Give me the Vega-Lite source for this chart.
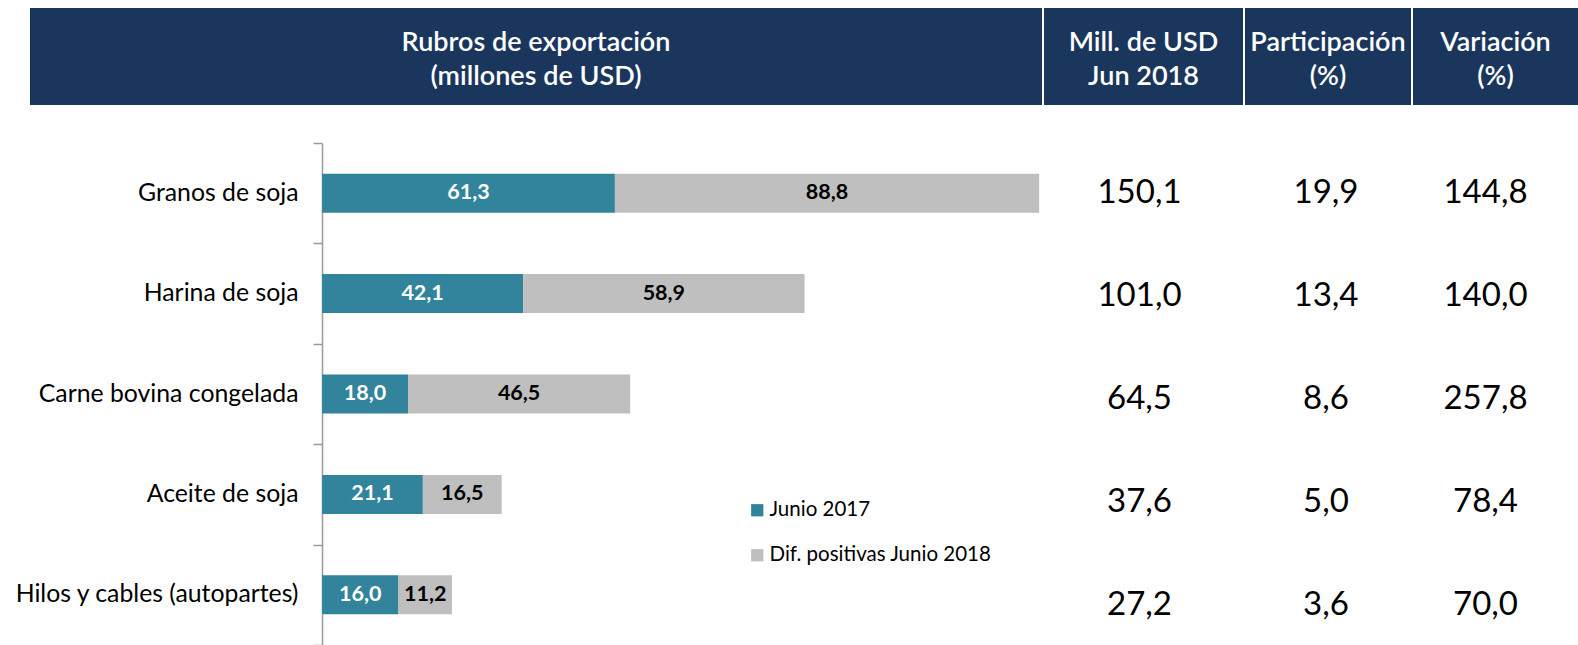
{
  "$schema": "https://vega.github.io/schema/vega-lite/v6.json",
  "padding": {"left": 12, "top": 8, "right": 0, "bottom": 0},
  "autosize": {"type": "pad"},
  "background": "white",
  "config": {
    "locale": {"number": {"decimal": ",", "thousands": ".", "grouping": [3], "currency": ["", ""]}},
    "view": {"stroke": null},
    "font": "Lato"
  },
  "datasets": {
    "encabezados": [
      {"col": "rubros", "texto": "Rubros de exportación\n(millones de USD)"},
      {"col": "mill", "texto": "Mill. de USD\nJun 2018"},
      {"col": "part", "texto": "Participación\n(%)"},
      {"col": "var", "texto": "Variación\n(%)"}
    ],
    "barras": [
      {"rubro": "Granos de soja", "serie": "Junio 2017", "valor": 61.3, "orden": 1},
      {"rubro": "Granos de soja", "serie": "Dif. positivas Junio 2018", "valor": 88.8, "orden": 2},
      {"rubro": "Harina de soja", "serie": "Junio 2017", "valor": 42.1, "orden": 1},
      {"rubro": "Harina de soja", "serie": "Dif. positivas Junio 2018", "valor": 58.9, "orden": 2},
      {"rubro": "Carne bovina congelada", "serie": "Junio 2017", "valor": 18.0, "orden": 1},
      {"rubro": "Carne bovina congelada", "serie": "Dif. positivas Junio 2018", "valor": 46.5, "orden": 2},
      {"rubro": "Aceite de soja", "serie": "Junio 2017", "valor": 21.1, "orden": 1},
      {"rubro": "Aceite de soja", "serie": "Dif. positivas Junio 2018", "valor": 16.5, "orden": 2},
      {"rubro": "Hilos y cables (autopartes)", "serie": "Junio 2017", "valor": 16.0, "orden": 1},
      {"rubro": "Hilos y cables (autopartes)", "serie": "Dif. positivas Junio 2018", "valor": 11.2, "orden": 2}
    ],
    "tabla": [
      {"rubro": "Granos de soja", "mill": 150.1, "part": 19.9, "var": 144.8},
      {"rubro": "Harina de soja", "mill": 101.0, "part": 13.4, "var": 140.0},
      {"rubro": "Carne bovina congelada", "mill": 64.5, "part": 8.6, "var": 257.8},
      {"rubro": "Aceite de soja", "mill": 37.6, "part": 5.0, "var": 78.4},
      {"rubro": "Hilos y cables (autopartes)", "mill": 27.2, "part": 3.6, "var": 70.0}
    ]
  },
  "columns": 1,
  "align": "none",
  "spacing": 25,
  "resolve": {"legend": {"color": "independent"}},
  "concat": [
    {
      "spacing": 2,
      "hconcat": [
        {
          "width": 1012, "height": 97,
          "view": {"fill": "#1b365d", "stroke": null},
          "data": {"name": "encabezados"},
          "transform": [{"filter": "datum.col === 'rubros'"}],
          "mark": {"type": "text", "color": "white", "fontSize": 27, "fontWeight": 600, "lineBreak": "\n", "lineHeight": 34, "align": "center", "baseline": "middle", "dy": -14},
          "encoding": {
            "y": {"field": "col", "type": "nominal", "axis": {"title": null, "labels": false, "ticks": false, "domain": false, "grid": false, "minExtent": 18, "maxExtent": 18}},
            "text": {"field": "texto", "type": "nominal"}
          }
        },
        {
          "width": 199, "height": 97,
          "view": {"fill": "#1b365d", "stroke": null},
          "data": {"name": "encabezados"},
          "transform": [{"filter": "datum.col === 'mill'"}],
          "mark": {"type": "text", "color": "white", "fontSize": 27, "fontWeight": 600, "lineBreak": "\n", "lineHeight": 34, "align": "center", "baseline": "middle", "dy": -14},
          "encoding": {"text": {"field": "texto", "type": "nominal"}}
        },
        {
          "width": 166, "height": 97,
          "view": {"fill": "#1b365d", "stroke": null},
          "data": {"name": "encabezados"},
          "transform": [{"filter": "datum.col === 'part'"}],
          "mark": {"type": "text", "color": "white", "fontSize": 27, "fontWeight": 600, "lineBreak": "\n", "lineHeight": 34, "align": "center", "baseline": "middle", "dy": -14},
          "encoding": {"text": {"field": "texto", "type": "nominal"}}
        },
        {
          "width": 165, "height": 97,
          "view": {"fill": "#1b365d", "stroke": null},
          "data": {"name": "encabezados"},
          "transform": [{"filter": "datum.col === 'var'"}],
          "mark": {"type": "text", "color": "white", "fontSize": 27, "fontWeight": 600, "lineBreak": "\n", "lineHeight": 34, "align": "center", "baseline": "middle", "dy": -14},
          "encoding": {"text": {"field": "texto", "type": "nominal"}}
        }
      ]
    },
    {
      "spacing": 2,
      "resolve": {"legend": {"color": "independent"}},
      "hconcat": [
        {
          "width": 1012, "height": 502,
          "data": {"name": "barras"},
          "encoding": {
            "y": {
              "field": "rubro", "type": "nominal",
              "sort": ["Granos de soja", "Harina de soja", "Carne bovina congelada", "Aceite de soja", "Hilos y cables (autopartes)"],
              "scale": {"paddingInner": 0, "paddingOuter": 0},
              "axis": {"title": null, "offset": -292, "tickBand": "extent", "tickSize": 9, "tickColor": "#9a9a9a", "tickWidth": 1.5, "domainColor": "#9a9a9a", "domainWidth": 1.5, "labelPadding": 15, "labelFontSize": 24.8, "labelFont": "Lato", "labelColor": "#000000", "labelLimit": 400, "minExtent": 0, "maxExtent": 400, "grid": false}
            }
          },
          "layer": [
            {
              "mark": {"type": "bar", "size": 39},
              "encoding": {
                "x": {"field": "valor", "type": "quantitative", "stack": "zero", "scale": {"domain": [-61.13, 150.7], "nice": false, "zero": false}, "axis": null},
                "color": {
                  "field": "serie", "type": "nominal",
                  "scale": {"domain": ["Junio 2017", "Dif. positivas Junio 2018"], "range": ["#31849b", "#bfbfbf"]},
                  "legend": {"orient": "none", "legendX": 717, "legendY": 357, "title": null, "symbolType": "square", "symbolSize": 150, "symbolStrokeWidth": 0, "labelFontSize": 20.5, "labelFont": "Lato", "labelColor": "#000000", "labelLimit": 400, "rowPadding": 24, "labelOffset": 2}
                },
                "order": {"field": "orden"}
              }
            },
            {
              "mark": {"type": "text", "fontSize": 21.5, "fontWeight": "bold", "align": "center", "baseline": "middle"},
              "encoding": {
                "x": {"field": "valor", "type": "quantitative", "stack": "zero", "bandPosition": 0.5},
                "text": {"field": "valor", "type": "quantitative", "format": ".1f"},
                "color": {"condition": {"test": "datum.serie === 'Junio 2017'", "value": "white"}, "value": "black"},
                "order": {"field": "orden"}
              }
            }
          ]
        },
        {
          "width": 199, "height": 502,
          "data": {"name": "tabla"},
          "mark": {"type": "text", "fontSize": 33, "align": "center", "baseline": "middle", "color": "#000000", "dx": -4},
          "encoding": {
            "y": {"field": "rubro", "type": "nominal", "sort": ["Granos de soja", "Harina de soja", "Carne bovina congelada", "Aceite de soja", "Hilos y cables (autopartes)"], "scale": {"range": [50, 462], "padding": 0}, "axis": null},
            "text": {"field": "mill", "type": "quantitative", "format": ".1f"}
          }
        },
        {
          "width": 166, "height": 502,
          "data": {"name": "tabla"},
          "mark": {"type": "text", "fontSize": 33, "align": "center", "baseline": "middle", "color": "#000000", "dx": -2},
          "encoding": {
            "y": {"field": "rubro", "type": "nominal", "sort": ["Granos de soja", "Harina de soja", "Carne bovina congelada", "Aceite de soja", "Hilos y cables (autopartes)"], "scale": {"range": [50, 462], "padding": 0}, "axis": null},
            "text": {"field": "part", "type": "quantitative", "format": ".1f"}
          }
        },
        {
          "width": 165, "height": 502,
          "data": {"name": "tabla"},
          "mark": {"type": "text", "fontSize": 33, "align": "center", "baseline": "middle", "color": "#000000", "dx": -10},
          "encoding": {
            "y": {"field": "rubro", "type": "nominal", "sort": ["Granos de soja", "Harina de soja", "Carne bovina congelada", "Aceite de soja", "Hilos y cables (autopartes)"], "scale": {"range": [50, 462], "padding": 0}, "axis": null},
            "text": {"field": "var", "type": "quantitative", "format": ".1f"}
          }
        }
      ]
    }
  ]
}
